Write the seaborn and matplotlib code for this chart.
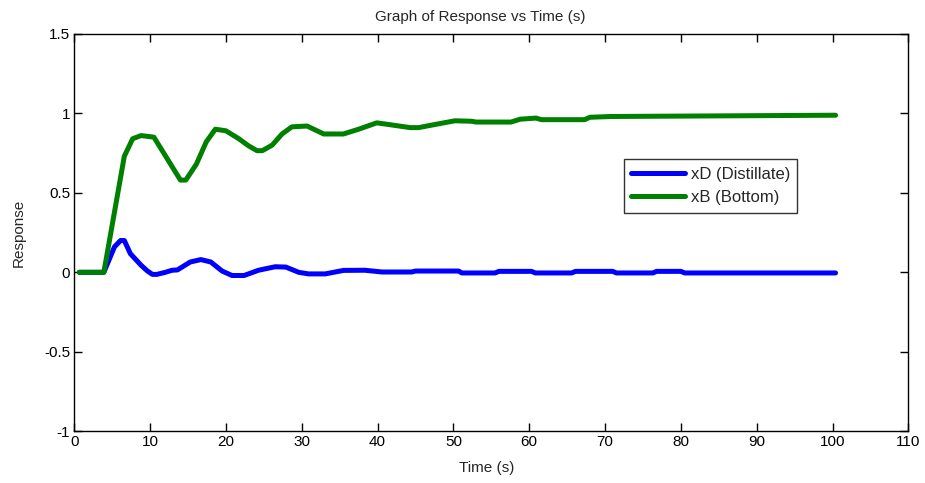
import numpy as np
import pandas as pd
import matplotlib
matplotlib.use("Agg")
import matplotlib.pyplot as plt
import seaborn as sns

# ---- data ----
t_xB = [0.66, 3.9, 6.6, 7.7, 8.8, 10.5, 14.0, 14.7, 16.1, 17.4, 18.6, 20.0, 21.7, 23.0, 24.1, 24.8,
        26.1, 27.4, 28.7, 30.7, 32.9, 35.5, 37.5, 39.9, 41.4, 44.3, 45.4, 47.6, 50.2,
        52.4, 53.0, 57.6, 58.8, 60.9, 61.6, 67.3, 68.0, 70.8, 85.7, 100.4]
xB = [0.0, 0.0, 0.73, 0.84, 0.86, 0.85, 0.58, 0.58, 0.68, 0.82, 0.90, 0.89, 0.84, 0.795, 0.765, 0.765,
      0.80, 0.87, 0.915, 0.92, 0.87, 0.87, 0.90, 0.94, 0.93, 0.91, 0.91, 0.93, 0.953,
      0.95, 0.945, 0.945, 0.963, 0.97, 0.96, 0.96, 0.975, 0.98, 0.984, 0.988]

t_xD = [0.66, 3.9, 5.3, 6.1, 6.6, 7.4, 8.8, 9.6, 10.3, 10.9, 12.0, 12.9, 13.6, 15.3, 16.7, 18.0,
        19.5, 20.8, 22.4, 24.3, 26.5, 27.9, 29.6, 30.9, 33.1, 35.5, 38.3, 40.6,
        44.5, 45.0, 50.7, 51.1, 55.5, 56.0, 60.3, 60.8, 65.6, 66.1, 71.0, 71.5,
        76.3, 76.8, 80.0, 80.5, 100.4]
xD = [0.0, 0.0, 0.16, 0.20, 0.20, 0.117, 0.045, 0.01, -0.013, -0.013, 0.0, 0.013, 0.015, 0.065, 0.08, 0.065,
      0.008, -0.02, -0.02, 0.013, 0.035, 0.033, 0.0, -0.01, -0.01, 0.012, 0.013, 0.002,
      0.002, 0.008, 0.008, -0.004, -0.004, 0.006, 0.006, -0.004, -0.004, 0.006, 0.006, -0.004,
      -0.004, 0.006, 0.006, -0.004, -0.004]

series_names = ["xD (Distillate)", "xB (Bottom)"]
x_ticks = list(range(0, 111, 10))
y_ticks = [-1, -0.5, 0, 0.5, 1, 1.5]
y_ticklabels = ["-1", "-0.5", "0", "0.5", "1", "1.5"]

df = pd.concat([
    pd.DataFrame({"Time": t_xD, "Response": xD, "Series": series_names[0]}),
    pd.DataFrame({"Time": t_xB, "Response": xB, "Series": series_names[1]}),
], ignore_index=True)

sns.set_style("ticks")
plt.rcParams["font.family"] = ["Liberation Sans", "DejaVu Sans"]
plt.rcParams["axes.linewidth"] = 1.0

fig = plt.figure(figsize=(9.25, 4.83), dpi=100)
ax = fig.add_axes([0.0803, 0.107, 0.9017, 0.823])

sns.lineplot(data=df, x="Time", y="Response", hue="Series", sort=False,
             palette={series_names[0]: "#0000FF", series_names[1]: "#008000"},
             linewidth=3.6, ax=ax, estimator=None)

ax.set_xlim(0, 110)
ax.set_ylim(-1, 1.5)
ax.set_xticks(x_ticks)
ax.set_xticklabels([str(v) for v in x_ticks])
ax.set_yticks(y_ticks)
ax.set_yticklabels(y_ticklabels)
ax.tick_params(direction="in", length=6, width=1, top=True, right=True,
               labelsize=11, colors="black", pad=3)
for s in ax.spines.values():
    s.set_visible(True)
    s.set_color("black")
    s.set_linewidth(1.0)

ax.set_title("Graph of Response vs Time (s)", fontsize=11, pad=9, x=0.487)
ax.set_xlabel("Time (s)", fontsize=11, labelpad=8)
ax.xaxis.set_label_coords(0.495, -0.075)
ax.set_ylabel("Response", fontsize=11, labelpad=13)

leg = ax.legend(loc="upper left", bbox_to_anchor=(0.659, 0.684), fontsize=12,
                frameon=True, fancybox=False, edgecolor="black", handlelength=3.2,
                borderpad=0.45, labelspacing=0.5, handletextpad=0.35, borderaxespad=0)
leg.get_frame().set_linewidth(1.0)
leg.set_title(None)

fig.savefig("out.png", dpi=100, facecolor="white")
